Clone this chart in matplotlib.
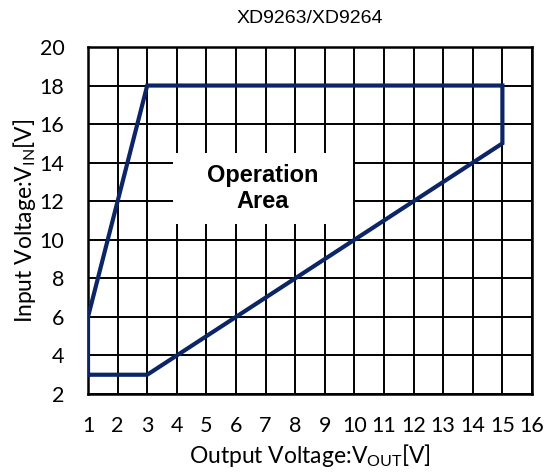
import matplotlib
matplotlib.use("Agg")
import matplotlib.pyplot as plt
from matplotlib.patches import Rectangle

plt.rcParams["font.family"] = "Lato"
plt.rcParams["mathtext.fontset"] = "custom"
plt.rcParams["mathtext.rm"] = "Lato"

# operating region boundary (Vout, Vin)
vout = [1, 1, 3, 15, 15, 3, 1]
vin = [3, 6, 18, 18, 15, 3, 3]

x_ticks = list(range(1, 17))
y_ticks = list(range(2, 21, 2))

fig = plt.figure(figsize=(5.48, 4.75), dpi=100)
ax = fig.add_axes([0.1606, 0.1705, 0.8102, 0.7306])

ax.set_xlim(1, 16)
ax.set_ylim(2, 20)
ax.set_xticks(x_ticks)
ax.set_yticks(y_ticks)
ax.tick_params(length=0, labelsize=15.5)
ax.tick_params(axis="x", pad=16)
ax.tick_params(axis="y", pad=17)
ax.set_axisbelow(True)
ax.grid(True, color="black", linewidth=1.4)
for s in ax.spines.values():
    s.set_linewidth(1.8)

ax.plot(vout, vin, color="#0b2566", linewidth=3, solid_joinstyle="miter", zorder=3)

# white patch behind the label
ax.add_patch(Rectangle((3.87, 10.8), 6.08, 3.7, facecolor="white", edgecolor="none", zorder=2))
ax.text(6.9, 12.65, "Operation\nArea", ha="center", va="center", fontsize=17,
        fontweight="bold", family="Liberation Sans", linespacing=1.2, zorder=4)

ax.set_xlabel("Output Voltage:V$_{\\mathrm{OUT}}$[V]", fontsize=16.5, labelpad=4)
ax.set_ylabel("Input Voltage:V$_{\\mathrm{IN}}$[V]", fontsize=16.5, labelpad=1)
fig.text(0.566, 0.962, "XD9263/XD9264", ha="center", va="center", fontsize=14,
         family="Liberation Sans")

fig.savefig("out.png", dpi=100)
